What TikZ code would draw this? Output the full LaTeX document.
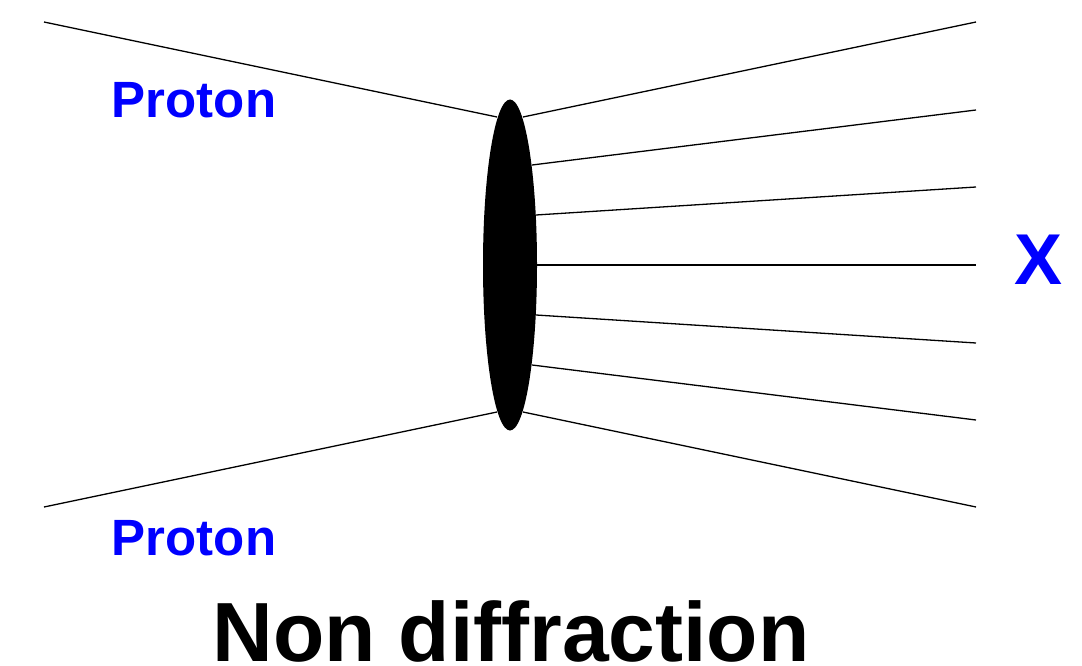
\documentclass[tikz,border=0pt]{standalone}
\usepackage{fontspec}
\setmainfont{Liberation Sans}
\usetikzlibrary{shapes.geometric}
\definecolor{pblue}{RGB}{0,0,255}
\begin{document}
\begin{tikzpicture}[x=1pt,y=-1pt,
  leg/.style={line width=1.3pt,black},
  lbl/.style={anchor=base,inner sep=0pt,text=pblue,font=\bfseries\fontsize{51}{60}\selectfont},
  blob/.style={ellipse,fill=black,draw=none,minimum width=54pt,minimum height=331pt,inner sep=0pt}]
\useasboundingbox (0,0) rectangle (1082,666);
% free ends
\coordinate (inT) at (44,22);
\coordinate (inB) at (44,507);
\coordinate (o1) at (976,22);
\coordinate (o2) at (976,110);
\coordinate (o3) at (976,187);
\coordinate (o4) at (976,265);
\coordinate (o5) at (976,343);
\coordinate (o6) at (976,420);
\coordinate (o7) at (976,507);
% points on the blob
\coordinate (lT) at (497,117);
\coordinate (lB) at (497,412);
\coordinate (r1) at (523,117);
\coordinate (r2) at (532,165);
\coordinate (r3) at (536,215);
\coordinate (r4) at (537,265);
\coordinate (r5) at (536,315);
\coordinate (r6) at (532,365);
\coordinate (r7) at (523,412);
\draw[leg] (inT) -- (lT);
\draw[leg] (inB) -- (lB);
\foreach \i in {1,...,7} {\draw[leg] (r\i) -- (o\i);}
\node[blob] (blob) at (510,265) {};
\node[lbl] (p1) at (194,118) {Proton};
\node[lbl] (p2) at (194,555) {Proton};
\node[lbl,font=\bfseries\fontsize{72}{80}\selectfont] (x) at (1039,284) {X};
\node[anchor=base,inner sep=0pt,text depth=0pt,font=\bfseries\fontsize{84}{96}\selectfont] (title) at (511,661) {Non diffraction};
\end{tikzpicture}
\end{document}
